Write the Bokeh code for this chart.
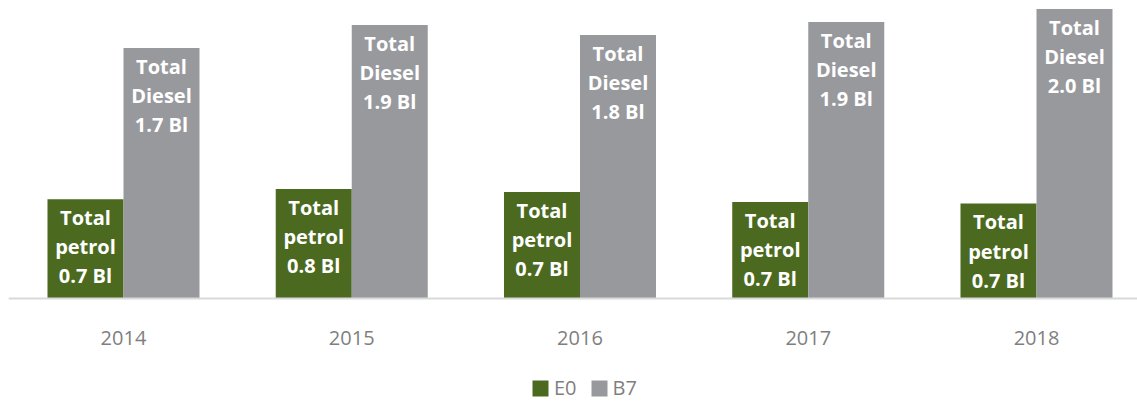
from bokeh.plotting import figure
from bokeh.models import ColumnDataSource, Range1d, Legend, LegendItem, Span
from bokeh.core.properties import value
from bokeh.embed import file_html
from bokeh.resources import INLINE

years = ["2014", "2015", "2016", "2017", "2018"]
e0_values = [0.69, 0.76, 0.74, 0.67, 0.66]
b7_values = [1.74, 1.90, 1.83, 1.92, 2.01]
e0_labels = ["0.7 Bl", "0.8 Bl", "0.7 Bl", "0.7 Bl", "0.7 Bl"]
b7_labels = ["1.7 Bl", "1.9 Bl", "1.8 Bl", "1.9 Bl", "2.0 Bl"]

GREEN = "#4b6a1f"
GREY = "#98999d"
TEXT_GREY = "#7f7f7f"

xs = list(range(len(years)))
bw = 0.333
src_e0 = ColumnDataSource(dict(
    x=[i - bw / 2 for i in xs], top=e0_values,
    label=["Total\npetrol\n" + t for t in e0_labels]))
src_b7 = ColumnDataSource(dict(
    x=[i + bw / 2 for i in xs], top=b7_values,
    label=["Total\nDiesel\n" + t for t in b7_labels]))
src_years = ColumnDataSource(dict(x=xs, y=[0] * len(xs), label=years))

PX = 144.0  # pixels per unit
p = figure(width=1137, height=401, output_backend="svg", toolbar_location=None,
           x_range=Range1d(-0.5038, 4.4425), y_range=Range1d(-103 / PX, 290 / PX),
           min_border_left=8, min_border_right=0, min_border_top=8, min_border_bottom=0,
           x_axis_location=None, y_axis_location=None)
p.outline_line_color = None
p.grid.visible = False

r1 = p.vbar(x="x", top="top", width=bw, source=src_e0, fill_color=GREEN, line_color=None)
r2 = p.vbar(x="x", top="top", width=bw, source=src_b7, fill_color=GREY, line_color=None)

p.add_layout(Span(location=0, dimension="width", line_color="#d9d9d9", line_width=2))

for src in (src_e0, src_b7):
    p.text(x="x", y="top", text="label", source=src, text_color="white",
           text_font=value("Open Sans"), text_font_style="bold", text_font_size="20px",
           text_align="center", text_baseline="top", text_line_height=1.08, y_offset=5)

# category (year) labels under the baseline
p.text(x="x", y="y", text="label", source=src_years, text_color=TEXT_GREY,
       text_font=value("Open Sans"), text_font_size="20px",
       text_align="center", text_baseline="middle", y_offset=39)

legend = Legend(items=[LegendItem(label="E0", renderers=[r1]),
                       LegendItem(label="B7", renderers=[r2])],
                orientation="horizontal", location=(522, 0),
                glyph_width=20, glyph_height=20, label_text_font="Open Sans",
                label_text_font_size="20px", label_text_color=TEXT_GREY,
                label_standoff=4, spacing=12, padding=0, margin=0,
                border_line_color=None, background_fill_alpha=0)
p.add_layout(legend, "center")

open("out.html", "w").write(file_html(p, INLINE))
